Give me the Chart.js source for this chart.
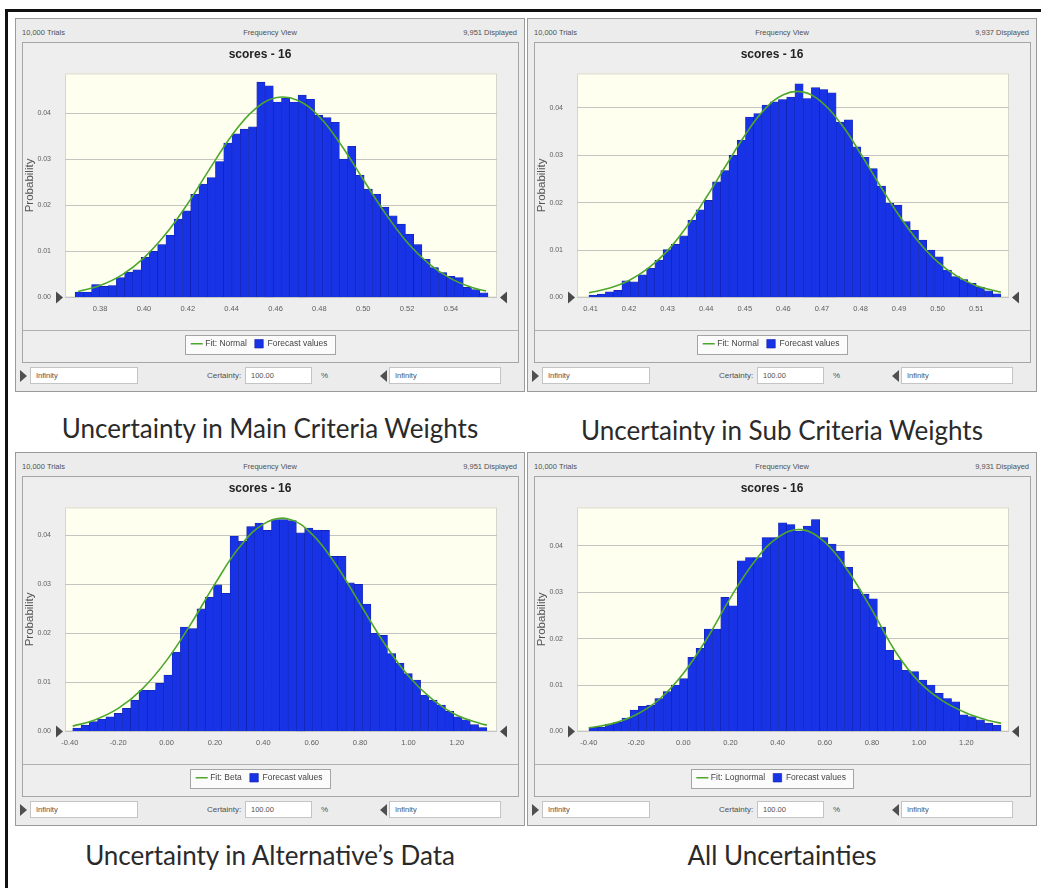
<!DOCTYPE html>
<html>
<head>
<meta charset="utf-8">
<title>Forecast frequency views - scores 16</title>
<script src="https://cdn.jsdelivr.net/npm/chart.js@4.4.1/dist/chart.umd.min.js"></script>
<style>
  html, body { margin: 0; padding: 0; background: #fff; }
  body { position: relative; width: 1041px; height: 888px; overflow: hidden; font-family: 'Liberation Sans', Arial, sans-serif; }
  #outline { position: absolute; left: 5px; top: 9px; width: 1100px; height: 1000px; border-left: 3px solid #111; border-top: 3px solid #111; }
  .panel { position: absolute; width: 510px; height: 374px; box-sizing: border-box; background: #ececec; border: 1px solid #9a9a9a; }
  .hdr { position: absolute; top: 9px; font-size: 7.5px; color: #505050; white-space: nowrap; }
  .inner { position: absolute; left: 6px; top: 23px; width: 497px; height: 321px; box-sizing: border-box; border: 1px solid #a6a6a6; background: #eeeeee; }
  .inner canvas { position: absolute; left: 0; top: 0; }
  .box { position: absolute; top: 348px; height: 17px; box-sizing: border-box; background: #fff; border: 1px solid #c4c4c4; font-size: 7.5px; color: #505050; line-height: 15px; padding-left: 5px; }
  .lbl { position: absolute; top: 348px; line-height: 17px; font-size: 8px; color: #505050; }
  .tri { position: absolute; top: 351px; width: 0; height: 0; border-top: 6px solid transparent; border-bottom: 6px solid transparent; }
  .tri.r { border-left: 7px solid #505050; }
  .tri.l { border-right: 7px solid #505050; }
  .caption { position: absolute; width: 510px; text-align: center; font-family: Lato, 'Open Sans', sans-serif; font-size: 26px; line-height: 30px; color: #2a2a2a; }
</style>
</head>
<body>
<div id="outline"></div>
<script>
// Probability of each of the 50 bins
const mainProb = [
  0.0012, 0.0012, 0.0028, 0.0024, 0.0026, 0.0043, 0.0055, 0.0060, 0.0087, 0.0100,
  0.0115, 0.0135, 0.0170, 0.0188, 0.0224, 0.0246, 0.0260, 0.0295, 0.0335, 0.0355,
  0.0365, 0.0370, 0.0467, 0.0459, 0.0424, 0.0432, 0.0424, 0.0439, 0.0430, 0.0395,
  0.0390, 0.0380, 0.0300, 0.0328, 0.0265, 0.0235, 0.0224, 0.0196, 0.0177, 0.0159,
  0.0137, 0.0115, 0.0083, 0.0065, 0.0054, 0.0046, 0.0043, 0.0022, 0.0017, 0.0010
];
const subProb = [
  0.0005, 0.0007, 0.0012, 0.0015, 0.0035, 0.0033, 0.0048, 0.0062, 0.0079, 0.0101,
  0.0112, 0.0130, 0.0163, 0.0185, 0.0205, 0.0244, 0.0268, 0.0300, 0.0332, 0.0381,
  0.0388, 0.0406, 0.0413, 0.0418, 0.0423, 0.0451, 0.0420, 0.0443, 0.0439, 0.0432,
  0.0370, 0.0375, 0.0318, 0.0296, 0.0272, 0.0235, 0.0199, 0.0195, 0.0160, 0.0142,
  0.0121, 0.0100, 0.0086, 0.0058, 0.0044, 0.0038, 0.0030, 0.0022, 0.0014, 0.0008
];
const altProb = [
  0.0007, 0.0013, 0.0020, 0.0025, 0.0030, 0.0037, 0.0047, 0.0064, 0.0084, 0.0084,
  0.0098, 0.0115, 0.0162, 0.0213, 0.0210, 0.0250, 0.0274, 0.0299, 0.0282, 0.0398,
  0.0388, 0.0418, 0.0425, 0.0410, 0.0432, 0.0432, 0.0430, 0.0405, 0.0415, 0.0411,
  0.0410, 0.0357, 0.0357, 0.0303, 0.0300, 0.0260, 0.0200, 0.0196, 0.0159, 0.0139,
  0.0118, 0.0105, 0.0074, 0.0064, 0.0054, 0.0041, 0.0030, 0.0024, 0.0014, 0.0008
];
const allProb = [
  0.0009, 0.0009, 0.0016, 0.0020, 0.0029, 0.0046, 0.0054, 0.0057, 0.0071, 0.0086,
  0.0100, 0.0114, 0.0160, 0.0179, 0.0221, 0.0221, 0.0289, 0.0271, 0.0368, 0.0375,
  0.0375, 0.0418, 0.0418, 0.0450, 0.0446, 0.0432, 0.0443, 0.0457, 0.0418, 0.0404,
  0.0389, 0.0354, 0.0307, 0.0296, 0.0286, 0.0225, 0.0175, 0.0154, 0.0132, 0.0129,
  0.0111, 0.0100, 0.0082, 0.0071, 0.0064, 0.0036, 0.0032, 0.0025, 0.0018, 0.0014
];

// Lower edge of the first bin and upper edge of the last bin
const mainBins = [0.3686, 0.5569];
const subBins = [0.4096, 0.5164];
const altBins = [-0.388, 1.324];
const allBins = [-0.400, 1.347];

// Fitted distribution curves, sampled along the x axis
const mainFitX = [0.370, 0.380, 0.390, 0.400, 0.410, 0.420, 0.430, 0.440, 0.450, 0.460,
                  0.470, 0.480, 0.490, 0.500, 0.510, 0.520, 0.530, 0.540, 0.550, 0.556];
const mainFitY = [0.0013, 0.0026, 0.0049, 0.0086, 0.0138, 0.0204, 0.0279, 0.0351, 0.0406, 0.0433,
                  0.0428, 0.0392, 0.0330, 0.0256, 0.0183, 0.0120, 0.0073, 0.0041, 0.0021, 0.0014];
const subFitX = [0.4096, 0.415, 0.420, 0.425, 0.430, 0.435, 0.440, 0.445, 0.450, 0.455, 0.460,
                 0.465, 0.470, 0.475, 0.480, 0.485, 0.490, 0.495, 0.500, 0.505, 0.510, 0.5164];
const subFitY = [0.0010, 0.0020, 0.0036, 0.0062, 0.0099, 0.0150, 0.0211, 0.0277, 0.0342, 0.0396, 0.0428,
                 0.0434, 0.0412, 0.0366, 0.0304, 0.0237, 0.0173, 0.0118, 0.0075, 0.0045, 0.0025, 0.0011];
const altFitX = [-0.388, -0.30, -0.20, -0.10, 0.00, 0.10, 0.20, 0.30, 0.40, 0.50,
                 0.60, 0.70, 0.80, 0.90, 1.00, 1.10, 1.20, 1.30, 1.324];
const altFitY = [0.0011, 0.0023, 0.0047, 0.0087, 0.0145, 0.0219, 0.0301, 0.0375, 0.0423, 0.0434,
                 0.0403, 0.0340, 0.0260, 0.0180, 0.0113, 0.0065, 0.0033, 0.0016, 0.0013];
const allFitX = [-0.40, -0.30, -0.20, -0.10, 0.00, 0.10, 0.20, 0.30, 0.40, 0.50,
                 0.60, 0.70, 0.80, 0.90, 1.00, 1.10, 1.20, 1.30, 1.347];
const allFitY = [0.0008, 0.0017, 0.0036, 0.0070, 0.0125, 0.0200, 0.0288, 0.0365, 0.0418, 0.0435,
                 0.0408, 0.0345, 0.0262, 0.0172, 0.0107, 0.0066, 0.0040, 0.0023, 0.0018];

// Tick labels
const mainTicks = [0.38, 0.40, 0.42, 0.44, 0.46, 0.48, 0.50, 0.52, 0.54];
const subTicks = [0.41, 0.42, 0.43, 0.44, 0.45, 0.46, 0.47, 0.48, 0.49, 0.50, 0.51];
const scoreTicks = [-0.40, -0.20, 0.00, 0.20, 0.40, 0.60, 0.80, 1.00, 1.20];
const probTicks = [0, 0.01, 0.02, 0.03, 0.04];

const fitNames = ['Fit: Normal', 'Fit: Normal', 'Fit: Beta', 'Fit: Lognormal'];
const displayedCounts = ['9,951 Displayed', '9,937 Displayed', '9,951 Displayed', '9,931 Displayed'];
const captions = [
  'Uncertainty in Main Criteria Weights',
  'Uncertainty in Sub Criteria Weights',
  'Uncertainty in Alternative\u2019s Data',
  'All Uncertainties'
];

const views = [
  { prob: mainProb, bins: mainBins, fitX: mainFitX, fitY: mainFitY, ticks: mainTicks, xMin: 0.364, xMax: 0.561, yMax: 0.0486, left: 15, top: 18, capTop: 413 },
  { prob: subProb, bins: subBins, fitX: subFitX, fitY: subFitY, ticks: subTicks, xMin: 0.4065, xMax: 0.5185, yMax: 0.0473, left: 527, top: 18, capTop: 415 },
  { prob: altProb, bins: altBins, fitX: altFitX, fitY: altFitY, ticks: scoreTicks, xMin: -0.42, xMax: 1.366, yMax: 0.0457, left: 15, top: 452, capTop: 840 },
  { prob: allProb, bins: allBins, fitX: allFitX, fitY: allFitY, ticks: scoreTicks, xMin: -0.4505, xMax: 1.381, yMax: 0.0483, left: 527, top: 452, capTop: 840 }
];

// Middle of each bin, from the bin range
function binCenters(range, count) {
  const w = (range[1] - range[0]) / count;
  return Array.from({ length: count }, (_, i) => range[0] + w * (i + 0.5));
}

// Cream plot background, legend box and the certainty grabbers
const viewDecor = {
  id: 'viewDecor',
  beforeDraw(chart) {
    const { ctx, chartArea: a, legend } = chart;
    ctx.save();
    ctx.fillStyle = '#fffff0';
    ctx.fillRect(a.left, a.top, a.right - a.left, a.bottom - a.top);
    ctx.strokeStyle = '#d6d6cc';
    ctx.lineWidth = 1;
    ctx.strokeRect(a.left + 0.5, a.top + 0.5, a.right - a.left - 1, a.bottom - a.top - 1);

    const sepY = Math.round(legend.top) - 1.5;
    ctx.strokeStyle = '#b0b0b0';
    ctx.beginPath();
    ctx.moveTo(0, sepY);
    ctx.lineTo(chart.width, sepY);
    ctx.stroke();

    const boxes = legend.legendHitBoxes;
    const l = Math.round(Math.min(...boxes.map(b => b.left))) - 7;
    const r = Math.round(Math.max(...boxes.map(b => b.left + b.width))) + 7;
    const t = Math.round(boxes[0].top) - 5;
    const h = Math.round(boxes[0].height) + 10;
    ctx.fillStyle = '#fbfbfb';
    ctx.fillRect(l, t, r - l, h);
    ctx.strokeStyle = '#a4a4a4';
    ctx.strokeRect(l + 0.5, t + 0.5, r - l, h);
    ctx.restore();
  },
  afterDraw(chart) {
    const { ctx, chartArea: a } = chart;
    ctx.save();
    ctx.fillStyle = '#4a4a4a';
    ctx.beginPath();
    ctx.moveTo(a.left - 9, a.bottom - 6);
    ctx.lineTo(a.left - 2, a.bottom);
    ctx.lineTo(a.left - 9, a.bottom + 6);
    ctx.fill();
    ctx.beginPath();
    ctx.moveTo(a.right + 10, a.bottom - 6);
    ctx.lineTo(a.right + 3, a.bottom);
    ctx.lineTo(a.right + 10, a.bottom + 6);
    ctx.fill();
    ctx.restore();
  }
};

Chart.defaults.font.family = "'Liberation Sans', Arial, sans-serif";
Chart.defaults.color = '#5a5a5a';

function drawView(canvas, view, index) {
  const centers = binCenters(view.bins, view.prob.length);
  return new Chart(canvas, {
    type: 'bar',
    data: {
      datasets: [
        {
          type: 'line',
          label: fitNames[index],
          order: 0,
          data: view.fitX.map((x, i) => ({ x, y: view.fitY[i] })),
          borderColor: '#4ea72c',
          backgroundColor: '#4ea72c',
          borderWidth: 1.6,
          pointRadius: 0,
          tension: 0.4,
          pointStyle: 'line'
        },
        {
          label: 'Forecast values',
          order: 1,
          data: centers.map((x, i) => ({ x, y: view.prob[i] })),
          backgroundColor: '#1833e6',
          borderColor: '#1020a8',
          borderWidth: 0.6,
          barPercentage: 1,
          categoryPercentage: 1,
          pointStyle: 'rect'
        }
      ]
    },
    options: {
      responsive: false,
      animation: false,
      events: [],
      layout: { padding: { left: 0, right: 21, top: 0, bottom: 4 } },
      scales: {
        x: {
          type: 'linear',
          min: view.xMin,
          max: view.xMax,
          offset: false,
          afterBuildTicks: s => { s.ticks = view.ticks.map(v => ({ value: v })); },
          afterFit: s => { s.height = 34; },
          grid: { display: false, offset: false, drawTicks: false },
          border: { display: false },
          ticks: { padding: 7, maxRotation: 0, autoSkip: false, font: { size: 7.5 }, color: '#606060', callback: v => v.toFixed(2) }
        },
        y: {
          min: 0,
          max: view.yMax,
          afterBuildTicks: s => { s.ticks = probTicks.map(v => ({ value: v })); },
          afterFit: s => { s.width = 42; },
          grid: { color: '#c4c4c0', drawTicks: false },
          border: { display: false },
          ticks: { padding: 14, font: { size: 7 }, color: '#606060', callback: v => v.toFixed(2) },
          title: { display: true, text: 'Probability', padding: 0, font: { size: 11.5 }, color: '#555' }
        }
      },
      plugins: {
        title: { display: true, text: 'scores - 16', padding: { top: 4, bottom: 12 }, font: { size: 12, weight: 'bold' }, color: '#222' },
        legend: {
          position: 'bottom',
          labels: { usePointStyle: true, padding: 8, boxWidth: 9, font: { size: 8.5 }, color: '#444' }
        },
        tooltip: { enabled: false }
      }
    },
    plugins: [viewDecor]
  });
}

function addEl(parent, tag, cls, text, style) {
  const el = document.createElement(tag);
  if (cls) el.className = cls;
  if (text) el.textContent = text;
  if (style) Object.assign(el.style, style);
  parent.appendChild(el);
  return el;
}

views.forEach((view, i) => {
  const panel = addEl(document.body, 'div', 'panel', null, { left: view.left + 'px', top: view.top + 'px' });
  addEl(panel, 'span', 'hdr', '10,000 Trials', { left: '6px' });
  addEl(panel, 'span', 'hdr', 'Frequency View', { left: '0', width: '100%', textAlign: 'center' });
  addEl(panel, 'span', 'hdr', displayedCounts[i], { right: '7px' });

  const inner = addEl(panel, 'div', 'inner');
  const canvas = addEl(inner, 'canvas');
  canvas.width = 495;
  canvas.height = 319;

  // certainty controls under the chart
  addEl(panel, 'span', 'tri r', null, { left: '4px' });
  addEl(panel, 'div', 'box', 'Infinity', { left: '14px', width: '108px' });
  addEl(panel, 'span', 'lbl', 'Certainty:', { left: '191px' });
  addEl(panel, 'div', 'box', '100.00', { left: '229px', width: '67px' });
  addEl(panel, 'span', 'lbl', '%', { left: '305px' });
  addEl(panel, 'span', 'tri l', null, { left: '364px' });
  addEl(panel, 'div', 'box', 'Infinity', { left: '373px', width: '112px' });

  addEl(document.body, 'div', 'caption', captions[i], { left: view.left + 'px', top: view.capTop + 'px' });

  drawView(canvas, view, i);
});
</script>
</body>
</html>
